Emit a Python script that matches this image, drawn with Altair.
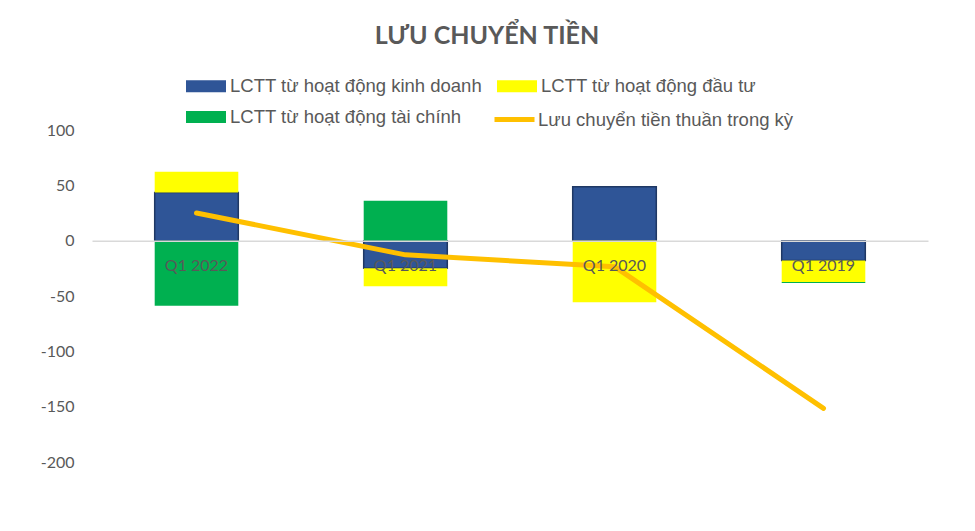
import altair as alt
import pandas as pd

quarters = ["Q1 2022", "Q1 2021", "Q1 2020", "Q1 2019"]
series_names = [
    "LCTT từ hoạt động kinh doanh",
    "LCTT từ hoạt động đầu tư",
    "LCTT từ hoạt động tài chính",
]
kinh_doanh = [43.6, -25.0, 48.8, -18.0]
dau_tu = [18.7, -16.2, -55.7, -19.3]
tai_chinh = [-58.7, 36.0, 0.0, -1.0]
net_name = "Lưu chuyển tiền thuần trong kỳ"
luu_chuyen_thuan = [25.0, -12.8, -23.5, -151.5]
y_ticks = [-200, -150, -100, -50, 0, 50, 100]

bar_colors = ["#2F5597", "#FFFF00", "#00B050"]
line_color = "#FFC000"
text_color = "#595959"

rows = []
for i, q in enumerate(quarters):
    for k, (name, vals) in enumerate(zip(series_names, [kinh_doanh, dau_tu, tai_chinh])):
        rows.append({"quarter": q, "series": name, "value": vals[i], "order": k})
bars_df = pd.DataFrame(rows)
line_df = pd.DataFrame({"quarter": quarters, "series": [net_name] * len(quarters), "value": luu_chuyen_thuan})

x_axis = alt.Axis(
    title=None, orient="bottom", offset=-221.33, domainColor="#D9D9D9", domainWidth=1.5,
    ticks=False, labelPadding=17, labelFont="Lato", labelFontSize=16, labelColor=text_color,
    labelAngle=0, zindex=1,
)
x_enc = alt.X("quarter:N", sort=quarters,
              scale=alt.Scale(paddingInner=0.6, paddingOuter=0.3), axis=x_axis)
y_axis = alt.Axis(title=None, values=y_ticks, grid=False, domain=False, ticks=False,
                  labelPadding=18, labelFont="Lato", labelFontSize=16, labelColor=text_color,
                  labelExpr="toString(datum.value)")
y_scale = alt.Scale(domain=[-200, 100], nice=False, zero=False)

legend_common = dict(title=None, labelFont="Liberation Sans", labelFontSize=18.5,
                     labelColor=text_color, labelLimit=500, symbolSize=400)

bars = alt.Chart(bars_df).mark_bar(strokeWidth=1.5).encode(
    x=x_enc,
    y=alt.Y("value:Q", stack="zero", scale=y_scale, axis=y_axis),
    color=alt.Color(
        "series:N",
        scale=alt.Scale(domain=series_names, range=bar_colors),
        legend=alt.Legend(orient="none", legendX=104, legendY=-54, columns=2,
                          direction="horizontal", columnPadding=14, rowPadding=11,
                          symbolType="M-2,-0.6H2V0.6H-2Z", labelOffset=14,
                          symbolStrokeWidth=0, **legend_common),
    ),
    stroke=alt.condition(alt.datum.series == series_names[0], alt.value("#1F3864"),
                         alt.value("transparent")),
    order=alt.Order("order:Q"),
)

line = alt.Chart(line_df).mark_line(strokeWidth=5, strokeCap="round", strokeJoin="round").encode(
    x=x_enc,
    y=alt.Y("value:Q", scale=y_scale, axis=y_axis),
    color=alt.Color(
        "series:N",
        scale=alt.Scale(domain=[net_name], range=[line_color]),
        legend=alt.Legend(orient="none", legendX=410, legendY=-23,
                          symbolType="M-2,0H2", symbolStrokeWidth=5, labelOffset=11,
                          **legend_common),
    ),
)

chart = (
    alt.layer(bars, line)
    .resolve_scale(color="independent")
    .resolve_legend(color="independent")
    .properties(
        width=836,
        height=332,
        title=alt.TitleParams("LƯU CHUYỂN TIỀN", font="Lato", fontSize=25, fontWeight="bold",
                              color=text_color, anchor="middle", offset=27, dx=-23),
        padding={"left": 84, "top": 122, "right": 39, "bottom": 55},
        autosize=alt.AutoSizeParams(type="none"),
    )
    .configure_view(stroke=None)
)

chart.save("out.html", embed_options={"renderer": "svg", "actions": False})
